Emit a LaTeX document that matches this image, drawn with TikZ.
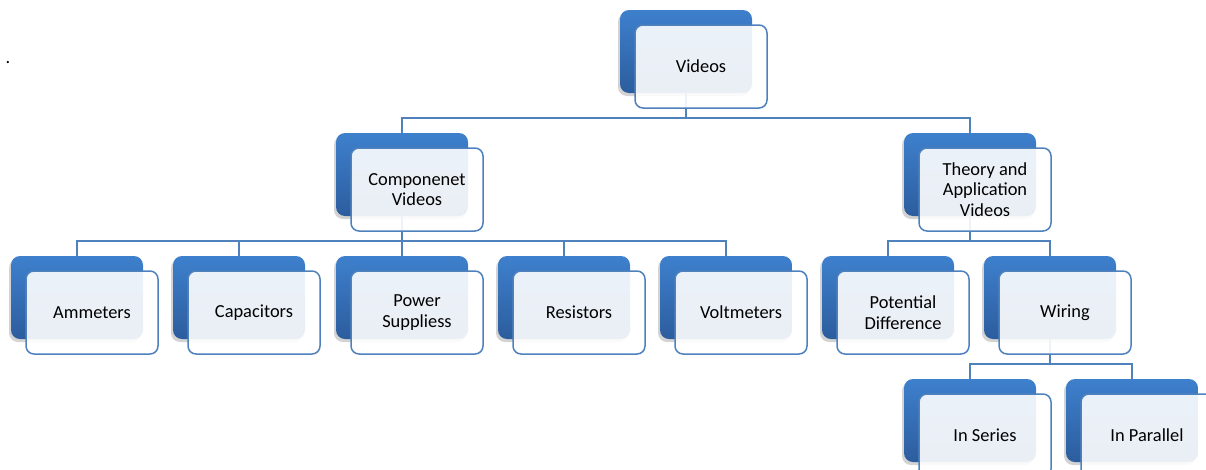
\documentclass[tikz,border=0pt]{standalone}
\usepackage{fontspec}
\setmainfont{Carlito}
\usetikzlibrary{positioning,shadows,backgrounds}
\definecolor{boxtop}{RGB}{62,128,205}
\definecolor{boxbot}{RGB}{44,93,158}
\definecolor{boxline}{RGB}{79,129,189}

\begin{document}
\begin{tikzpicture}[x=1pt,y=-1pt,
  back/.style={rectangle,rounded corners=9pt,minimum width=132pt,minimum height=83pt,
    top color=boxtop,bottom color=boxbot,draw=none,
    drop shadow={shadow xshift=-2pt,shadow yshift=-3pt,opacity=0.35}},
  front/.style={rectangle,rounded corners=8pt,minimum width=132pt,minimum height=83pt,
    inner sep=0pt,fill=white,fill opacity=0.9,text opacity=1,draw=boxline,
    line width=1.5pt,align=center,font=\fontsize{18.4}{20.5}\selectfont},
  link/.style={draw=boxline,line width=1.5pt}]
  \clip (0,0) rectangle (1206,469);
  \node[font=\fontsize{18.4}{20.5}\selectfont,inner sep=0pt] (dot) at (8,63) {.};
  % top
  \node[back] (vid) at (686,51.5) {};
  \node[front] (vidF) at ([shift={(15,15)}]vid) {Videos};
  % second row
  \node[back] (comp) at (402,174.5) {};
  \node[front] (compF) at ([shift={(15,15)}]comp) {Componenet\\Videos};
  \node[back] (theo) at (970,174.5) {};
  \node[front] (theoF) at ([shift={(15,15)}]theo) {Theory and\\Application\\Videos};
  % third row
  \node[back] (amm) at (77,297.5) {};
  \node[front] (ammF) at ([shift={(15,15)}]amm) {Ammeters};
  \node[back] (cap) at (239,297.5) {};
  \node[front] (capF) at ([shift={(15,15)}]cap) {Capacitors};
  \node[back] (pow) at (402,297.5) {};
  \node[front] (powF) at ([shift={(15,15)}]pow) {Power\\Suppliess};
  \node[back] (res) at (564,297.5) {};
  \node[front] (resF) at ([shift={(15,15)}]res) {Resistors};
  \node[back] (volt) at (726,297.5) {};
  \node[front] (voltF) at ([shift={(15,15)}]volt) {Voltmeters};
  \node[back] (pot) at (888,297.5) {};
  \node[front] (potF) at ([shift={(15,15)}]pot) {Potential\\Difference};
  \node[back] (wir) at (1050,297.5) {};
  \node[front] (wirF) at ([shift={(15,15)}]wir) {Wiring};
  % fourth row
  \node[back] (ser) at (970,420.5) {};
  \node[front] (serF) at ([shift={(15,15)}]ser) {In Series};
  \node[back] (par) at (1132,420.5) {};
  \node[front] (parF) at ([shift={(15,15)}]par) {In Parallel};
  % connectors
  \begin{scope}[on background layer]
    \foreach \p/\c in {vid/comp,vid/theo,comp/amm,comp/cap,comp/pow,comp/res,comp/volt,
                       theo/pot,theo/wir,wir/ser,wir/par}
      \draw[link] (\p.center) |- ([yshift=15pt]\c.north) -- (\c.center);
  \end{scope}
\end{tikzpicture}
\end{document}
